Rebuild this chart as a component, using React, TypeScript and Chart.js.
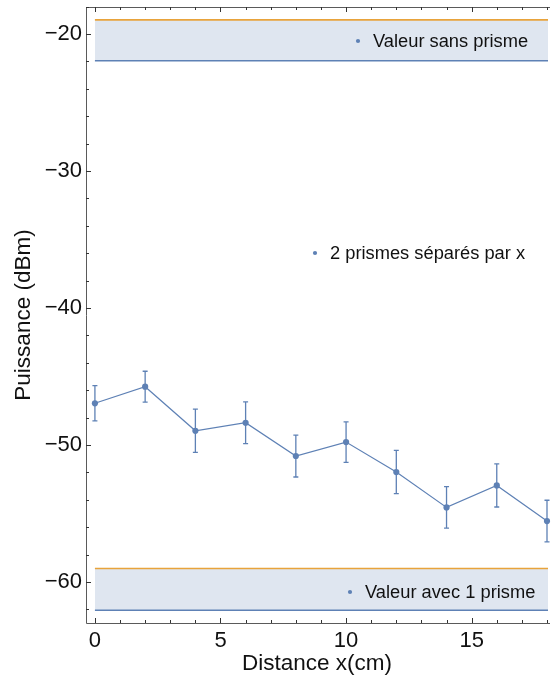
import React, { useEffect, useRef } from "react";
import { Chart, registerables } from "chart.js";

Chart.register(...registerables);

// ---- data ----
const distances = [0, 2, 4, 6, 8, 10, 12, 14, 16, 18];
const puissance = [-46.96, -45.75, -48.97, -48.38, -50.81, -49.79, -51.98, -54.56, -52.96, -55.56];
const erreurs = [1.29, 1.13, 1.58, 1.52, 1.53, 1.48, 1.58, 1.51, 1.57, 1.52];
const sansPrismeHaut = -18.97;
const sansPrismeBas = -21.95;
const avecPrismeHaut = -59.02;
const avecPrismeBas = -62.07;
const bandX = [0, 20];
const xMajorTicks = [0, 5, 10, 15];
const yMajorTicks = [-60, -50, -40, -30, -20];
const legendLabels = ["Valeur sans prisme", "2 prismes séparés par x", "Valeur avec 1 prisme"];
const xTitle = "Distance x(cm)";
const yTitle = "Puissance (dBm)";

const BLUE = "#5E81B5";
const ORANGE = "#E8A33B";
const FILL = "rgba(94,129,181,0.2)";
const FONT = "'Liberation Sans', Arial, sans-serif";

const fmt = (v: number) => (v < 0 ? "\u2212" + Math.abs(v) : String(v));

const decorPlugin = {
  id: "decor",
  afterDatasetsDraw(chart: any) {
    const { ctx, chartArea: a, scales } = chart;
    const xs = scales.x;
    const ys = scales.y;
    ctx.save();
    // error bars
    ctx.strokeStyle = BLUE;
    ctx.lineWidth = 1.3;
    ctx.beginPath();
    ctx.rect(a.left, a.top, a.right - a.left + 5, a.bottom - a.top);
    ctx.clip();
    distances.forEach((d, i) => {
      const px = xs.getPixelForValue(d);
      const y1 = ys.getPixelForValue(puissance[i] + erreurs[i]);
      const y2 = ys.getPixelForValue(puissance[i] - erreurs[i]);
      ctx.beginPath();
      ctx.moveTo(px, y1);
      ctx.lineTo(px, y2);
      ctx.moveTo(px - 2.5, y1);
      ctx.lineTo(px + 2.5, y1);
      ctx.moveTo(px - 2.5, y2);
      ctx.lineTo(px + 2.5, y2);
      ctx.stroke();
    });
    ctx.restore();

    ctx.save();
    // frame
    ctx.strokeStyle = "#5a5a5a";
    ctx.lineWidth = 1;
    ctx.beginPath();
    ctx.moveTo(a.right + 2, a.top + 0.5);
    ctx.lineTo(a.left + 0.5, a.top + 0.5);
    ctx.lineTo(a.left + 0.5, a.bottom + 0.5);
    ctx.lineTo(a.right + 2, a.bottom + 0.5);
    ctx.stroke();
    // ticks
    ctx.strokeStyle = "#333";
    ctx.beginPath();
    for (let v = -62; v <= -18; v += 2) {
      const py = Math.round(ys.getPixelForValue(v)) + 0.5;
      const len = v % 10 === 0 ? 5 : 3;
      ctx.moveTo(a.left, py);
      ctx.lineTo(a.left + len, py);
    }
    for (let v = 0; v <= 18; v += 1) {
      const px = Math.round(xs.getPixelForValue(v)) + 0.5;
      const len = v % 5 === 0 ? 5 : 3;
      ctx.moveTo(px, a.bottom);
      ctx.lineTo(px, a.bottom - len);
      ctx.moveTo(px, a.top);
      ctx.lineTo(px, a.top + len);
    }
    ctx.stroke();

    // legends
    const legendPos = [
      [a.left + 272, a.top + 34],
      [a.left + 229, a.top + 246],
      [a.left + 264, a.top + 585],
    ];
    ctx.font = "18.3px " + FONT;
    ctx.textBaseline = "middle";
    ctx.textAlign = "left";
    legendLabels.forEach((lab, i) => {
      const [lx, ly] = legendPos[i];
      ctx.fillStyle = BLUE;
      ctx.beginPath();
      ctx.arc(lx, ly, 2.1, 0, Math.PI * 2);
      ctx.fill();
      ctx.fillStyle = "#111";
      ctx.fillText(lab, lx + 15, ly + 1);
    });
    ctx.restore();
  },
};

export default function App() {
  const ref = useRef<HTMLCanvasElement | null>(null);
  useEffect(() => {
    if (!ref.current) return;
    const chart = new Chart(ref.current, {
      type: "line",
      data: {
        datasets: [
          {
            label: "sansHaut",
            data: bandX.map((x) => ({ x, y: sansPrismeHaut })),
            borderColor: ORANGE,
            borderWidth: 1.6,
            pointRadius: 0,
            fill: false,
          },
          {
            label: "sansBas",
            data: bandX.map((x) => ({ x, y: sansPrismeBas })),
            borderColor: BLUE,
            borderWidth: 1.6,
            pointRadius: 0,
            fill: "-1",
            backgroundColor: FILL,
          },
          {
            label: "avecHaut",
            data: bandX.map((x) => ({ x, y: avecPrismeHaut })),
            borderColor: ORANGE,
            borderWidth: 1.6,
            pointRadius: 0,
            fill: false,
          },
          {
            label: "avecBas",
            data: bandX.map((x) => ({ x, y: avecPrismeBas })),
            borderColor: BLUE,
            borderWidth: 1.6,
            pointRadius: 0,
            fill: "-1",
            backgroundColor: FILL,
          },
          {
            label: "mesures",
            data: distances.map((x, i) => ({ x, y: puissance[i] })),
            borderColor: BLUE,
            borderWidth: 1.2,
            pointRadius: 3.1,
            pointBackgroundColor: BLUE,
            pointBorderWidth: 0,
            fill: false,
            clip: 6,
          } as any,
        ],
      },
      options: {
        animation: false,
        responsive: false,
        maintainAspectRatio: false,
        layout: { padding: { top: 7, right: 0, left: 0, bottom: 0 } },
        plugins: {
          legend: { display: false },
          tooltip: { enabled: false },
        },
        scales: {
          x: {
            type: "linear",
            min: -0.355,
            max: 18.04,
            afterFit: (s: any) => {
              s.height = 60;
              s.paddingLeft = 0;
              s.paddingRight = 0;
            },
            afterBuildTicks: (s: any) => {
              s.ticks = xMajorTicks.map((v) => ({ value: v }));
            },
            grid: { display: false, drawTicks: false },
            border: { display: false },
            ticks: {
              padding: 5,
              color: "#111",
              font: { family: FONT, size: 22 },
              callback: (v: any) => fmt(Number(v)),
              maxRotation: 0,
            },
            title: {
              display: true,
              text: xTitle,
              color: "#111",
              font: { family: FONT, size: 22.5 },
              padding: { top: 0, bottom: 6 },
            },
          },
          y: {
            type: "linear",
            min: -63.0,
            max: -18.03,
            afterFit: (s: any) => {
              s.width = 86;
              s.paddingTop = 0;
              s.paddingBottom = 0;
            },
            afterBuildTicks: (s: any) => {
              s.ticks = yMajorTicks.map((v) => ({ value: v }));
            },
            grid: { display: false, drawTicks: false },
            border: { display: false },
            ticks: {
              padding: 4,
              color: "#111",
              font: { family: FONT, size: 22 },
              callback: (v: any) => fmt(Number(v)),
            },
            title: {
              display: true,
              text: yTitle,
              color: "#111",
              font: { family: FONT, size: 22.5 },
              padding: { top: 10.5, bottom: 0 },
            },
          },
        },
      },
      plugins: [decorPlugin],
    });
    return () => chart.destroy();
  }, []);
  return (
    <div style={{ position: "absolute", left: 0, top: 0, width: 552, height: 683, background: "#fff" }}>
      <canvas ref={ref} width={552} height={683} style={{ width: 552, height: 683, display: "block" }} />
    </div>
  );
}
